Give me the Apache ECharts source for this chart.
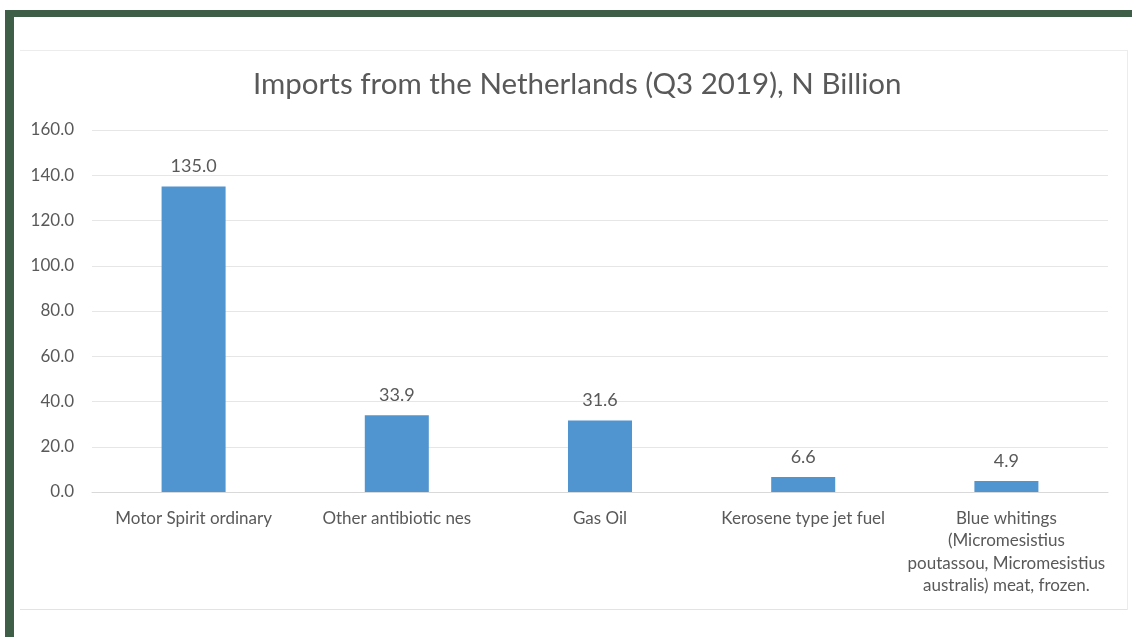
<!DOCTYPE html>
<html>
<head>
<meta charset="utf-8">
<script src="https://cdn.jsdelivr.net/npm/echarts@6/dist/echarts.min.js"></script>
<style>
  html, body { margin: 0; padding: 0; background: #ffffff; }
  #wrap { position: relative; width: 1132px; height: 637px; overflow: hidden; }
  .deco { position: absolute; }
  #chart { position: absolute; left: 0; top: 0; width: 1132px; height: 637px; }
</style>
</head>
<body>
<div id="wrap">
  <div class="deco" style="left:5px; top:10px; width:1127px; height:7px; background:#3e5e48;"></div>
  <div class="deco" style="left:5px; top:10px; width:9px; height:627px; background:#3e5e48;"></div>
  <div class="deco" style="left:20px; top:50px; width:1107px; height:1px; background:#ececec;"></div>
  <div class="deco" style="left:1127px; top:50px; width:1px; height:560px; background:#ececec;"></div>
  <div class="deco" style="left:20px; top:609px; width:1107px; height:1px; background:#e3e3e3;"></div>
  <div id="chart"></div>
</div>
<script>
const titleText = 'Imports from the Netherlands (Q3 2019), N Billion';
const categories = [
  'Motor Spirit ordinary',
  'Other antibiotic nes',
  'Gas Oil',
  'Kerosene type jet fuel',
  'Blue whitings\n(Micromesistius\npoutassou, Micromesistius\naustralis) meat, frozen.'
];
const values = [135.0, 33.9, 31.6, 6.6, 4.9];
const yMin = 0, yMax = 160, yStep = 20;

const chart = echarts.init(document.getElementById('chart'), null, { renderer: 'canvas' });
const font = 'Lato, "Open Sans", "Noto Sans", sans-serif';
chart.setOption({
  backgroundColor: 'transparent',
  animation: false,
  title: {
    text: titleText,
    left: 248,
    top: 64,
    textStyle: { fontFamily: font, fontSize: 29.5, fontWeight: 'normal', color: '#595959' }
  },
  grid: { left: 92, right: 24, top: 130, bottom: 145, containLabel: false },
  xAxis: {
    type: 'category',
    data: categories,
    axisTick: { show: false },
    axisLine: { show: true, lineStyle: { color: '#d9d9d9', width: 1 } },
    axisLabel: {
      interval: 0,
      margin: 15,
      fontFamily: font,
      fontSize: 17,
      color: '#595959',
      lineHeight: 22.5,
      align: 'center'
    }
  },
  yAxis: {
    type: 'value',
    min: yMin,
    max: yMax,
    interval: yStep,
    axisLine: { show: false },
    axisTick: { show: false },
    splitLine: { lineStyle: { color: '#e6e6e6', width: 1 } },
    axisLabel: {
      formatter: v => v.toFixed(1),
      margin: 18,
      fontFamily: font,
      fontSize: 17,
      color: '#595959'
    }
  },
  series: [{
    type: 'bar',
    data: values,
    barWidth: '31.5%',
    itemStyle: { color: '#5094d0' },
    label: {
      show: true,
      position: 'top',
      distance: 11,
      formatter: p => p.value.toFixed(1),
      fontFamily: font,
      fontSize: 18,
      color: '#595959'
    }
  }]
});
</script>
</body>
</html>
